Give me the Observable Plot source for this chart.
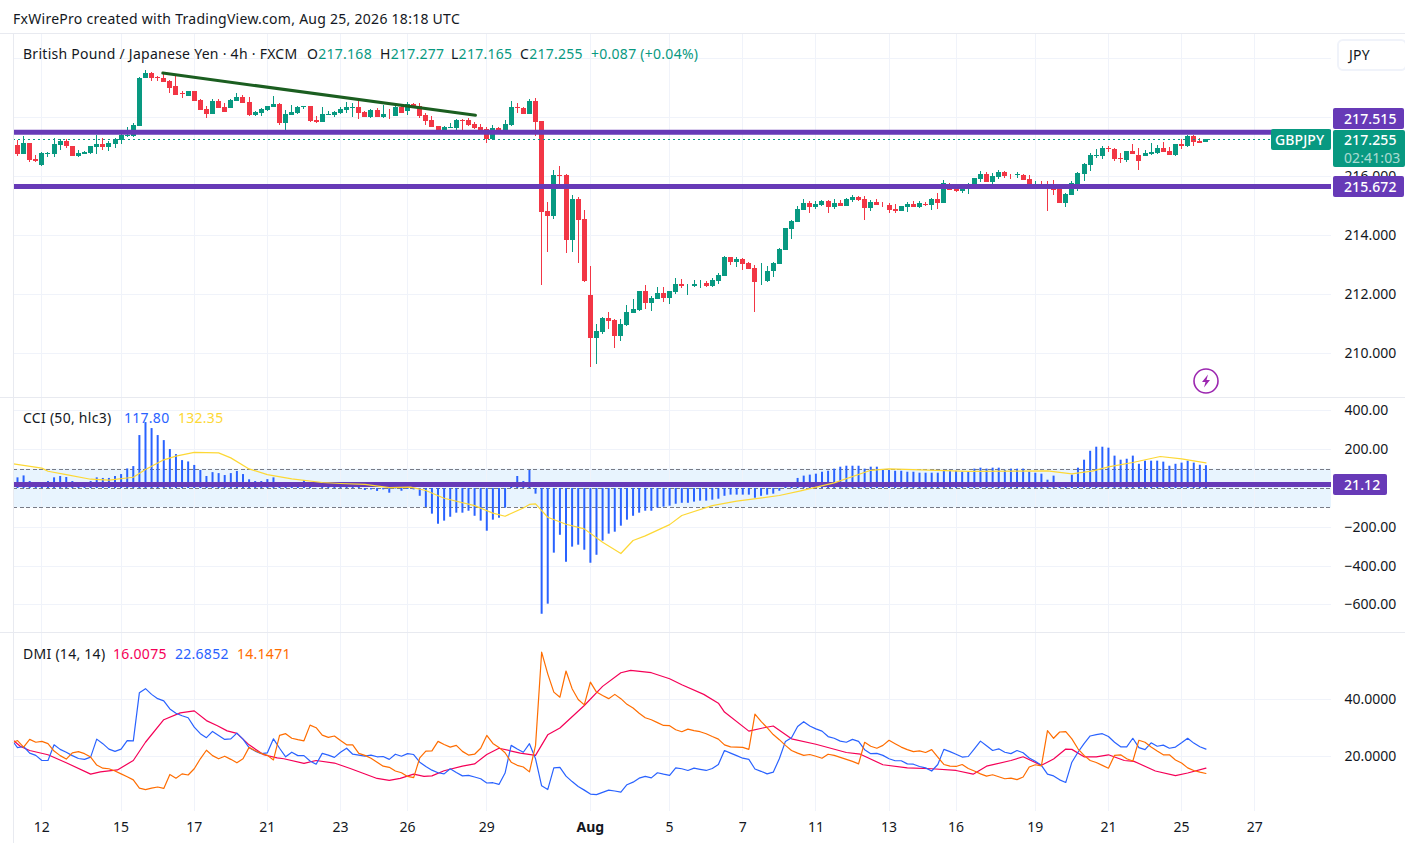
<!DOCTYPE html>
<html><head><meta charset="utf-8">
<script src="https://cdn.jsdelivr.net/npm/d3@7"></script>
<script src="https://cdn.jsdelivr.net/npm/@observablehq/plot@0.6"></script>
<style>
html,body{margin:0;padding:0;background:#fff;overflow:hidden}
#root{position:relative;width:1405px;height:843px;font-family:"Noto Sans",sans-serif;color:#131722;font-size:14px;overflow:hidden}
#root svg{position:absolute;left:0;background:transparent;font-family:"Noto Sans",sans-serif}
.t{position:absolute;white-space:pre;line-height:18px;letter-spacing:.27px}
.tag{position:absolute;color:#fff;box-sizing:border-box;padding-left:11px;border-radius:2px;line-height:21px;font-weight:500;letter-spacing:.1px}
.sep{position:absolute;background:#e8eaf0}
</style></head><body><div id="root"></div>
<script>
const opens=[217.06,216.76,217.13,216.59,216.39,216.76,216.76,217.06,217.20,217.03,
216.69,216.76,216.79,216.99,217.10,216.99,217.10,217.23,217.37,217.37,
217.71,219.33,219.52,219.37,219.34,219.25,219.05,218.82,218.73,218.89,
218.59,218.29,218.12,218.56,218.35,218.32,218.56,218.69,218.52,218.08,
218.15,218.25,218.35,218.46,217.82,218.08,218.15,218.36,218.39,217.91,
217.84,218.08,218.08,218.15,218.25,218.33,218.35,218.18,218.01,218.25,
218.01,218.12,218.05,218.36,218.22,218.46,218.39,218.08,217.91,217.71,
217.55,217.64,217.64,217.91,217.91,217.78,217.67,217.61,217.27,217.64,
217.52,217.74,218.35,218.32,218.12,218.56,217.88,214.82,214.65,216.04,
216.04,213.84,215.23,214.55,211.97,210.51,210.71,211.19,211.12,210.58,
210.95,211.36,211.46,212.11,211.70,211.83,212.04,211.87,212.07,212.34,
212.30,212.28,212.36,212.38,212.28,212.45,212.62,213.26,213.09,213.19,
213.06,212.89,212.47,212.45,212.78,213.02,213.50,214.21,214.45,214.86,
215.09,214.96,215.03,215.16,214.96,215.09,214.99,215.20,215.30,215.23,
214.92,215.13,215.07,215.03,214.89,214.82,214.96,215.06,214.96,215.06,
215.03,215.23,215.09,215.70,215.56,215.50,215.58,215.65,215.91,216.08,
215.81,215.99,216.15,216.05,216.05,216.05,215.91,215.63,215.66,215.70,
215.58,215.56,215.09,215.37,215.70,216.08,216.39,216.70,216.69,216.96,
216.93,216.62,216.55,216.86,216.72,216.69,216.76,216.79,216.96,216.86,
216.72,217.10,217.03,217.37,217.20,217.168];
const closes=[216.76,217.13,216.56,216.52,216.78,216.79,217.10,217.20,217.03,216.69,
216.79,216.83,217.03,217.10,216.99,217.13,217.27,217.40,217.40,217.74,
219.35,219.50,219.33,219.35,219.19,218.99,218.76,218.79,218.89,218.57,
218.25,218.12,218.56,218.32,218.19,218.59,218.69,218.49,218.08,218.19,
218.29,218.39,218.46,217.82,218.12,218.19,218.35,218.39,217.89,217.84,
218.12,218.12,218.18,218.29,218.35,218.35,218.15,218.01,218.25,218.01,
218.12,218.10,218.35,218.15,218.46,218.35,218.05,217.88,217.67,217.55,
217.67,217.67,217.91,217.89,217.74,217.64,217.52,217.27,217.64,217.52,
217.78,218.35,218.33,218.12,218.56,217.84,214.79,214.65,216.04,216.02,
213.84,215.23,214.52,212.44,210.51,210.75,211.19,211.09,210.58,210.99,
211.39,211.49,212.11,211.70,211.87,212.04,211.87,212.11,212.34,212.28,
212.32,212.34,212.38,212.28,212.48,212.65,213.26,213.09,213.19,213.02,
212.85,212.41,212.49,212.78,213.06,213.53,214.25,214.48,214.89,215.09,
214.96,215.06,215.16,214.96,215.09,214.99,215.23,215.30,215.20,214.92,
215.13,215.03,215.05,214.86,214.82,215.00,215.06,214.96,215.09,215.04,
215.23,215.09,215.78,215.53,215.50,215.60,215.68,215.94,216.08,215.81,
216.01,216.15,216.01,216.03,216.07,215.88,215.75,215.68,215.64,215.62,
215.54,215.09,215.40,215.76,216.11,216.42,216.72,216.72,216.96,216.94,
216.59,216.59,216.86,216.76,216.52,216.79,216.83,216.96,216.83,216.72,
217.10,217.03,217.37,217.17,217.13,217.255];
const highs=[217.23,217.37,217.13,216.72,216.82,216.83,217.31,217.26,217.27,217.03,
216.90,216.86,217.03,217.40,217.29,217.20,217.29,217.52,217.66,217.80,
219.36,219.61,219.53,219.42,219.52,219.27,219.47,218.91,218.90,218.91,
218.62,218.37,218.61,218.61,218.48,218.64,218.82,218.76,218.68,218.22,
218.33,218.40,218.73,218.48,218.25,218.42,218.38,218.39,218.39,218.05,
218.36,218.23,218.23,218.36,218.53,218.50,218.59,218.21,218.29,218.33,
218.42,218.28,218.44,218.39,218.52,218.49,218.49,218.15,218.05,217.71,
217.71,217.81,217.95,217.95,217.98,217.84,217.78,217.67,217.74,217.68,
217.91,218.56,218.49,218.35,218.62,218.66,217.88,215.13,216.21,216.35,
216.07,215.37,215.30,214.86,212.95,210.99,211.23,211.39,211.15,211.15,
211.63,211.83,212.11,212.31,211.94,212.24,212.24,212.11,212.55,212.51,
212.34,212.48,212.48,212.45,212.55,212.72,213.29,213.26,213.26,213.22,
213.09,212.99,213.06,212.95,213.09,213.56,214.25,214.52,214.99,215.23,
215.16,215.16,215.20,215.20,215.23,215.20,215.26,215.37,215.33,215.33,
215.20,215.23,215.13,215.09,215.06,215.00,215.13,215.16,215.16,215.13,
215.26,215.43,215.87,215.76,215.65,215.65,215.76,215.94,216.18,216.15,
216.11,216.21,216.18,216.08,216.15,216.08,216.05,215.84,215.84,215.84,
215.87,215.68,215.43,215.83,216.15,216.45,216.79,216.93,217.03,217.03,
216.96,216.79,216.86,217.10,216.96,216.89,217.13,217.06,217.17,217.00,
217.10,217.27,217.40,217.40,217.30,217.277];
const lows=[216.69,216.76,216.47,216.47,216.35,216.67,216.67,216.90,216.95,216.69,
216.67,216.76,216.77,216.76,216.89,216.87,216.97,217.10,217.35,217.35,
217.71,219.33,219.25,219.22,219.19,218.82,218.76,218.67,218.71,218.57,
218.25,217.99,218.10,218.32,218.19,218.32,218.54,218.48,218.03,218.05,
218.05,218.23,218.35,217.75,217.57,218.07,218.12,218.29,217.84,217.81,
217.84,218.08,218.01,218.12,218.16,218.01,217.95,218.01,217.98,218.01,
217.98,217.95,218.05,218.15,218.08,218.35,217.98,217.74,217.67,217.55,
217.52,217.64,217.57,217.55,217.71,217.62,217.46,217.13,217.23,217.46,
217.46,217.71,218.14,218.12,218.12,217.37,212.31,213.43,214.55,215.70,
213.40,213.43,213.06,212.41,209.52,209.63,210.65,210.82,210.17,210.41,
210.92,211.36,211.43,211.49,211.43,211.83,211.73,211.66,212.00,212.21,
211.97,212.24,212.21,212.24,212.24,212.34,212.62,212.99,212.92,212.82,
212.85,211.39,212.31,212.41,212.58,213.02,213.50,213.87,214.45,214.86,
214.75,214.89,215.00,214.75,214.89,214.99,214.99,215.13,215.16,214.52,
214.82,215.03,214.96,214.75,214.75,214.82,214.79,214.96,214.93,214.99,
214.86,214.89,215.09,215.53,215.47,215.43,215.40,215.65,215.81,215.81,
215.70,215.91,215.95,215.91,215.95,215.88,215.75,215.57,215.62,214.82,
215.37,215.09,214.96,215.37,215.51,215.84,216.18,216.62,216.59,216.83,
216.52,216.45,216.49,216.76,216.21,216.69,216.73,216.76,216.83,216.72,
216.68,216.93,217.00,217.03,217.12,217.165];

const trendBars=[23.84,75.14];
const trendPrices=[219.52,218.09];
const levels=[217.515,215.672];
const lastPrice=217.255;

const cci=[55,65,36,27,31,36,55,62,57,36,
27,31,36,55,52,52,62,72,101,113,
273,340,309,273,247,201,175,144,137,119,
93,62,82,77,67,77,88,72,45,36,
36,46,55,10,5,31,31,41,15,-2,
15,21,21,24,24,21,10,-10,-7,-15,
-7,-24,-3,-14,-5,-7,-40,-98,-132,-184,
-168,-148,-127,-127,-117,-143,-168,-220,-163,-153,
-101,31,62,36,93,-29,-648,-596,-333,-241,
-380,-302,-292,-318,-385,-344,-271,-235,-225,-194,
-163,-143,-127,-117,-117,-101,-96,-91,-81,-76,
-76,-70,-65,-65,-60,-55,-40,-34,-34,-34,
-34,-50,-40,-34,-29,-14,15,26,52,
64,69,74,84,89,100,110,115,115,115,
100,110,110,94,94,89,89,84,84,79,
79,79,79,89,89,89,84,84,100,105,
100,105,105,94,100,100,100,84,79,74,
43,64,22,15,69,105,146,192,213,213,
208,167,146,151,167,125,141,141,141,136,
115,125,131,141,131,120,117.8];
const cciMaBars=[-0.66,4,5,8,12,15,19,21,24,26,29,33,35,38,41,45,50,53,57,61,64.5,67,70,75,78,80,83,84,85,87,90,93,96,99,101,103,107,109,114,118,125,128.5,134,140,143,156,169,173,176.5,179,183,187.5,191,195];
const cciMa=[127,105,89,72,48,43,58,98,148,167,186,184,158,101,72,50,31,26,21,5,7,-10,-50,-88,-127,-143,-100,-82,-79,-148,-184,-208,-277,-335,-268,-244,-186,-139,-88,-65,-36,-12,29,94,101,88,91,76,91,112,134,165,153,132.35];
const cciLevel=21.12;
const cciBands=[100,0,-100];

const dmiBlue=[25.1,23.2,23.6,21.3,20.5,18.7,18.7,24.2,22.6,21.6,20.4,
19.4,19.1,19.9,26.2,24.6,22.7,21.9,22.7,25.7,25.6,
42.5,43.9,41.9,40.4,39.6,36.8,35.3,34.4,33.7,30.4,
28.1,26.7,28.9,27.5,26.1,26.3,28.3,26.2,23.2,22.0,
21.1,21.4,26.3,23.0,20.0,21.6,20.4,20.4,18.5,17.4,
21.2,20.6,19.8,21.6,23.0,20.9,20.6,20.2,20.6,20.0,
20.1,19.1,20.9,20.2,21.1,20.8,18.1,16.6,15.3,14.4,
14.0,15.8,14.5,13.3,13.5,12.9,12.3,10.8,10.9,10.3,
14.3,24.0,22.7,21.6,24.6,19.3,9.8,8.5,16.1,16.3,
13.2,11.3,9.6,8.3,6.9,6.7,7.5,8.3,8.0,7.6,
10.2,11.1,12.5,13.1,12.6,14.4,13.9,13.5,16.1,15.8,
15.2,16.0,15.6,15.2,15.9,17.3,22.2,21.3,20.4,19.5,
19.1,15.7,14.9,14.0,14.6,19.3,25.4,26.7,30.6,32.3,
30.8,29.8,29.0,27.1,26.5,25.5,25.1,26.1,25.4,22.5,
21.1,21.2,20.5,19.3,18.6,18.6,17.5,17.4,16.6,16.1,
15.0,17.3,22.6,21.8,20.9,19.9,20.1,22.8,25.5,23.9,
22.2,22.8,21.6,21.1,22.2,21.4,19.6,18.4,17.0,13.9,
13.3,11.9,11.0,18.1,21.6,24.6,27.3,27.8,28.1,27.1,
25.1,23.5,23.5,26.5,23.2,22.5,24.9,23.7,24.1,23.0,
23.4,24.9,26.5,24.8,23.5,22.6852];
const dmiOrange=[25.1,25.7,23.4,26.1,25.1,25.4,24.6,22.0,20.4,19.2,21.4,
21.8,21.1,19.9,17.1,16.0,15.8,15.0,14.0,13.0,11.9,
9.0,8.5,9.0,9.4,8.9,13.8,12.5,14.0,13.6,15.8,
19.3,22.3,20.4,19.3,20.2,19.1,17.9,19.3,23.3,22.1,
21.2,20.5,18.9,27.5,28.1,26.5,26.0,25.6,31.1,30.2,
27.6,26.8,27.3,25.7,24.2,24.2,21.2,20.5,19.5,18.1,
16.7,16.3,15.0,14.4,13.1,12.7,19.6,22.0,22.1,25.4,
24.3,23.4,24.0,21.9,20.6,20.9,23.0,27.5,24.7,23.3,
21.4,18.1,17.0,16.4,14.7,24.0,56.7,49.1,42.7,40.9,
50.1,43.9,40.1,38.2,46.2,42.7,41.5,40.4,41.9,40.4,
38.4,37.1,35.3,33.7,33.0,32.0,31.0,30.9,29.5,28.8,
29.7,29.2,28.8,28.1,27.1,26.2,24.2,23.5,23.4,23.3,
22.6,35.0,32.4,30.2,27.8,26.0,24.0,22.2,21.3,20.5,
20.8,20.2,19.5,20.9,20.5,19.8,19.1,18.4,17.5,25.1,
23.7,23.0,24.0,25.8,24.6,23.4,22.5,21.8,22.1,21.5,
22.5,19.9,17.3,16.7,16.6,17.3,15.9,15.0,14.0,13.2,
13.7,13.0,12.3,12.5,12.0,12.9,16.4,17.2,16.8,29.2,
26.5,28.7,28.8,26.3,22.8,20.5,18.7,18.0,17.0,16.0,
20.5,20.7,19.3,18.5,25.8,25.1,23.4,22.0,20.7,20.7,
18.9,17.8,16.1,15.2,14.6,14.1471];
const dmiRedBars=[-0.66,0.5,2,5,8,12,13.6,16.4,19,21,24,26.7,29,31,32.8,34.4,36,38,40.4,42.6,43.7,47,49,52,54.6,59,61,62.8,65,66.7,68,70,73,75,77,79,82.5,85,87,89,93,96,99,100.6,104,107,109,112.6,115,116,120,122.5,124,127,131,136,138.3,142,146,150,154,156.8,159,163,165,168,170,172,173,175,177,179,181.6,183.2,186.7,190,192,195];
const dmiRed=[25.7,23.6,22.2,20.7,17.9,13.9,14.7,15.4,18.7,25.1,33.0,35.4,36.1,32.7,30.9,29.1,28.2,24.2,20.7,19.6,19.3,17.7,18.7,17.8,15.9,12.4,11.7,12.4,13.9,13.1,13.3,15.1,16.7,17.5,20.8,23.0,21.3,20.5,27.7,30.1,38.0,44.7,49.5,50.3,49.5,47.4,45.3,41.9,38.8,35.7,29.0,30.2,30.8,26.3,24.4,21.5,20.9,17.2,16.1,15.8,15.2,13.9,16.7,18.7,20.0,17.0,19.2,22.7,22.6,20.0,20.0,20.7,18.7,18.4,15.0,13.4,14.3,16.0];

const tickBars=[4,17,29,41,53,64,77,94,107,119,131,143,154,167,179,191,203];
const tickLabels=["12","15","17","21","23","26","29","Aug","5","7","11","13","16","19","21","25","27"];

const barCount=opens.length;
const barIdx=d3.range(barCount);
const dmiX=[-0.66,...barIdx];
const candles=barIdx.map(i=>({i,o:opens[i],h:highs[i],l:lows[i],c:closes[i]}));
const UP="#089981",DOWN="#f23645",PURPLE="#673ab7",GRID="#f0f3fa",INK="#131722";
const FW=1405, xDomain=[-0.656,215.6];
const xOpt={domain:xDomain};
const common={width:FW,marginLeft:13,marginRight:74,marginTop:0,style:{background:"transparent",overflow:"visible"}};
const grid=()=>Plot.ruleX(tickBars,{stroke:GRID,strokeWidth:1,shapeRendering:"crispEdges"});
const fmtTick=i=>tickLabels[tickBars.indexOf(i)];
const yAxis=(ticks,fmt)=>Plot.axisY(ticks,{anchor:"right",tickSize:0,tickPadding:13,tickFormat:fmt,fontSize:14,fill:INK,label:null});
const gridY=t=>Plot.ruleY(t,{stroke:GRID,strokeWidth:1,shapeRendering:"crispEdges"});

const main=Plot.plot({...common,height:363,marginBottom:0,x:{...xOpt,axis:null},
 y:{domain:[208.506,220.83],axis:null},
 marks:[
  grid(),gridY([210,212,214,216,218,220]),
  yAxis([210,212,214,216],d3.format(".3f")),
  Plot.ruleX(candles,{x:"i",y1:"l",y2:"h",stroke:d=>d.c>=d.o?UP:DOWN,strokeWidth:1,shapeRendering:"crispEdges"}),
  Plot.ruleX(candles,{x:"i",y1:"o",y2:"c",stroke:d=>d.c>=d.o?UP:DOWN,strokeWidth:5,shapeRendering:"crispEdges"}),
  Plot.ruleY([lastPrice],{stroke:UP,strokeWidth:1,strokeDasharray:"1.5 3.5",shapeRendering:"crispEdges"}),
  Plot.ruleY(levels,{stroke:PURPLE,strokeWidth:5}),
  Plot.line(trendBars.map((b,k)=>[b,trendPrices[k]]),{stroke:"#1b5e20",strokeWidth:3})
 ]});

const cciChart=Plot.plot({...common,height:234,marginBottom:0,x:{...xOpt,axis:null},
 y:{domain:[-742,464],axis:null},
 marks:[
  Plot.rectY([0],{x1:xDomain[0],x2:xDomain[1],y1:-100,y2:100,fill:"#2196f3",fillOpacity:0.1}),
  grid(),gridY([400,200,-200,-400,-600]),
  yAxis([400,200,-200,-400,-600],d3.format(".2f")),
  Plot.ruleY(cciBands,{stroke:"#787b86",strokeWidth:1,strokeDasharray:"4 2.5",shapeRendering:"crispEdges"}),
  Plot.ruleX(cci,{x:barIdx,y1:0,y2:d=>d,stroke:"#2962ff",strokeWidth:2}),
  Plot.ruleY([cciLevel],{stroke:PURPLE,strokeWidth:5}),
  Plot.lineY(cciMa,{x:cciMaBars,stroke:"#fdd835",strokeWidth:1.2})
 ]});

const dmiChart=Plot.plot({...common,height:210,marginBottom:32,x:{...xOpt,axis:null},
 y:{domain:[0.8,63.26],axis:null},
 marks:[
  grid(),gridY([20,40]),
  yAxis([20,40],d3.format(".4f")),
  Plot.axisX(tickBars.filter(b=>b!==94),{tickSize:0,tickPadding:11,tickFormat:fmtTick,fontSize:14,fill:INK,label:null}),
  Plot.axisX([94],{tickSize:0,tickPadding:11,tickFormat:fmtTick,fontSize:14,fontWeight:"bold",fill:INK,label:null}),
  Plot.lineY(dmiRed,{x:dmiRedBars,stroke:"#f50057",strokeWidth:1.2}),
  Plot.lineY(dmiBlue,{x:dmiX,stroke:"#2962ff",strokeWidth:1.2}),
  Plot.lineY(dmiOrange,{x:dmiX,stroke:"#ff6d00",strokeWidth:1.2})
 ]});

const root=document.getElementById("root");
const TOPS={main:34,cci:398,dmi:633};
[[main,TOPS.main],[cciChart,TOPS.cci],[dmiChart,TOPS.dmi]].forEach(([c,t])=>{c.style.top=t+"px";c.style.position="absolute";root.appendChild(c)});

function el(cls,style,html){const d=document.createElement("div");d.className=cls;Object.assign(d.style,style);if(html!=null)d.innerHTML=html;root.appendChild(d);return d}
function sep(x,y,w,h){el("sep",{left:x+"px",top:y+"px",width:w+"px",height:h+"px"})}
sep(0,33,1405,1);sep(13,33,1,810);sep(0,397,1405,1);sep(0,632,1405,1);

const label=(x,y,html)=>el("t",{left:x+"px",top:y+"px"},html);
const g=s=>`<span style="color:${UP}">${s}</span>`;
label(13,10,"FxWirePro created with TradingView.com, Aug 25, 2026 18:18 UTC");
label(23,45,"British Pound / Japanese Yen · 4h · FXCM");
label(307,45,`O${g("217.168")}`);
label(380,45,`H${g("217.277")}`);
label(451,45,`L${g("217.165")}`);
label(520,45,`C${g("217.255")}`);
label(591,45,g("+0.087 (+0.04%)"));
label(23,409,"CCI (50, hlc3)");
label(124,409,`<span style="color:#2962ff">117.80</span>`);
label(178,409,`<span style="color:#fdd835">132.35</span>`);
label(23,645,"DMI (14, 14)");
label(113,645,`<span style="color:#f50057">16.0075</span>`);
label(175,645,`<span style="color:#2962ff">22.6852</span>`);
label(237,645,`<span style="color:#ff6d00">14.1471</span>`);

el("t",{left:"1337px",top:"39px",width:"70px",height:"32px",border:"2px solid #f0f3fa",borderRadius:"6px",boxSizing:"border-box",lineHeight:"28px",paddingLeft:"10px",background:"#fff"},"JPY");

const my=v=>TOPS.main+main.scale("y").apply(v);
const cy=v=>TOPS.cci+cciChart.scale("y").apply(v);
el("tag",{left:"1333px",top:(my(levels[0])-24)+"px",width:"71px",height:"21px",background:PURPLE},"217.515");
el("tag",{left:"1333px",top:(my(levels[1])-10)+"px",width:"71px",height:"21px",background:PURPLE},"215.672");
el("tag",{left:"1333px",top:(my(lastPrice)-9)+"px",width:"72px",height:"37px",background:UP,lineHeight:"18px",paddingTop:"1px"},`217.255<br><span style="opacity:.65;font-weight:400">02:41:03</span>`);
el("tag",{left:"1271px",top:(my(lastPrice)-10)+"px",width:"60px",height:"21px",background:UP,paddingLeft:"4px"},"GBPJPY");
el("tag",{left:"1333px",top:(cy(cciLevel)-10)+"px",width:"54px",height:"21px",background:PURPLE},"21.12");

const bolt=document.createElementNS("http://www.w3.org/2000/svg","svg");
bolt.setAttribute("width","28");bolt.setAttribute("height","28");bolt.setAttribute("viewBox","0 0 28 28");
bolt.style.left="1192px";bolt.style.top="367px";
bolt.innerHTML='<circle cx="14" cy="14" r="12" fill="#fff" stroke="#9c27b0" stroke-width="1.6"/><path d="M16 7.5 L10 15 H13.5 L12 20.5 L18 13 H14.5 Z" fill="#9c27b0"/>';
root.appendChild(bolt);
</script></body></html>
